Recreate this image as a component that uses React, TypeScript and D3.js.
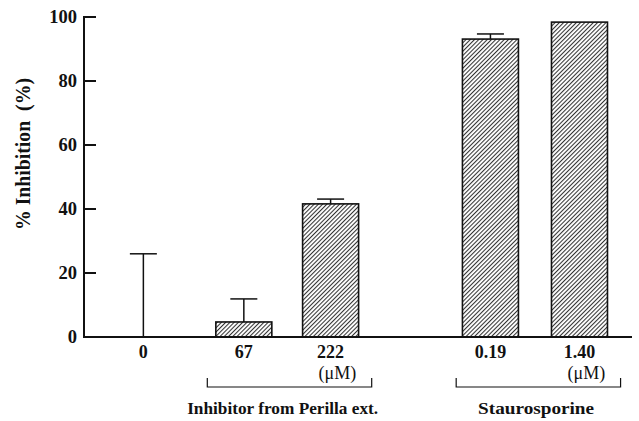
import { useEffect, useRef } from "react"
import * as d3 from "d3"

// bar data
const labels = ["0", "67", "222", "0.19", "1.40"]
const slots = [1.3, 3.5, 5.4, 8.9, 10.85]
const values = [0, 4.7, 41.6, 93.1, 98.4]
const errors = [26, 7.2, 1.5, 1.6, 0]
const showBar = [false, true, true, true, true]
const yTicks = [0, 20, 40, 60, 80, 100]

const groups = [
  { name: "Inhibitor from Perilla ext.", from: 2.7, to: 6.3, unitAt: 5.55, labelAt: 4.35, len: 191 },
  { name: "Staurosporine", from: 8.15, to: 11.75, unitAt: 11.0, labelAt: 9.9, len: 116 },
]

const W = 639
const H = 421
const FONT = "Liberation Serif, DejaVu Serif, Times New Roman, serif"

export default function App() {
  const svgRef = useRef<SVGSVGElement>(null)

  useEffect(() => {
    document.body.style.margin = "0"
    const svg = d3.select(svgRef.current)
    svg.selectAll("*").remove()

    const x = d3.scaleLinear().domain([0, 12]).range([84, 632])
    const y = d3.scaleLinear().domain([0, 100]).range([337, 17])
    const barW = 56
    const capW = 27

    const defs = svg.append("defs")
    const pat = defs
      .append("pattern")
      .attr("id", "hatch")
      .attr("patternUnits", "userSpaceOnUse")
      .attr("width", 3)
      .attr("height", 3)
      .attr("patternTransform", "rotate(45)")
    pat.append("rect").attr("width", 3).attr("height", 3).attr("fill", "#fff")
    pat.append("line").attr("x1", 0.5).attr("y1", 0).attr("x2", 0.5).attr("y2", 3).attr("stroke", "#333").attr("stroke-width", 1.1)

    const g = svg.append("g").style("font-family", FONT).attr("fill", "#111")

    // error bars
    values.forEach((v, i) => {
      const cx = x(slots[i])
      const top = y(v + errors[i])
      if (errors[i] <= 0) return
      g.append("line").attr("x1", cx).attr("x2", cx).attr("y1", y(v)).attr("y2", top).attr("stroke", "#111").attr("stroke-width", 1.5)
      g.append("line")
        .attr("x1", cx - capW / 2)
        .attr("x2", cx + capW / 2)
        .attr("y1", top)
        .attr("y2", top)
        .attr("stroke", "#111")
        .attr("stroke-width", 1.5)
    })

    // bars
    g.selectAll("rect.bar")
      .data(values.map((v, i) => ({ v, i })).filter((d) => showBar[d.i]))
      .enter()
      .append("rect")
      .attr("class", "bar")
      .attr("x", (d) => x(slots[d.i]) - barW / 2)
      .attr("y", (d) => y(d.v))
      .attr("width", barW)
      .attr("height", (d) => y(0) - y(d.v))
      .attr("fill", "url(#hatch)")
      .attr("stroke", "#111")
      .attr("stroke-width", 1.6)

    // axes
    g.append("line").attr("x1", 84).attr("x2", 84).attr("y1", y(100) - 1).attr("y2", y(0)).attr("stroke", "#111").attr("stroke-width", 2)
    g.append("line").attr("x1", 83).attr("x2", 632).attr("y1", y(0)).attr("y2", y(0)).attr("stroke", "#111").attr("stroke-width", 2)

    yTicks.forEach((t) => {
      g.append("line").attr("x1", 84).attr("x2", 96).attr("y1", y(t)).attr("y2", y(t)).attr("stroke", "#111").attr("stroke-width", 2)
      g.append("text")
        .attr("x", 77)
        .attr("y", y(t))
        .attr("dy", "0.35em")
        .attr("text-anchor", "end")
        .attr("font-weight", "bold")
        .attr("font-size", 18.5)
        .text(t)
    })

    labels.forEach((l, i) => {
      g.append("text")
        .attr("x", x(slots[i]))
        .attr("y", 358)
        .attr("text-anchor", "middle")
        .attr("font-weight", "bold")
        .attr("font-size", 18)
        .text(l)
    })

    groups.forEach((gr) => {
      const x0 = x(gr.from)
      const x1 = x(gr.to)
      g.append("text")
        .attr("x", x(gr.unitAt))
        .attr("y", 379)
        .attr("text-anchor", "middle")
        .attr("font-size", 18)
        .text("(\u03bcM)")
      g.append("path")
        .attr("d", `M${x0},378V387H${x1}V378`)
        .attr("fill", "none")
        .attr("stroke", "#111")
        .attr("stroke-width", 1.2)
      g.append("text")
        .attr("x", x(gr.labelAt))
        .attr("y", 414)
        .attr("text-anchor", "middle")
        .attr("font-weight", "bold")
        .attr("font-size", 17)
        .attr("textLength", gr.len)
        .attr("lengthAdjust", "spacingAndGlyphs")
        .text(gr.name)
    })

    g.append("text")
      .attr("transform", `translate(30,154) rotate(-90)`)
      .attr("text-anchor", "middle")
      .attr("font-weight", "bold")
      .attr("font-size", 20)
      .attr("textLength", 152)
      .attr("lengthAdjust", "spacingAndGlyphs")
      .attr("xml:space", "preserve")
      .text("% Inhibition  (%)")
  }, [])

  return <svg ref={svgRef} width={W} height={H} style={{ display: "block", background: "#fff" }} />
}
